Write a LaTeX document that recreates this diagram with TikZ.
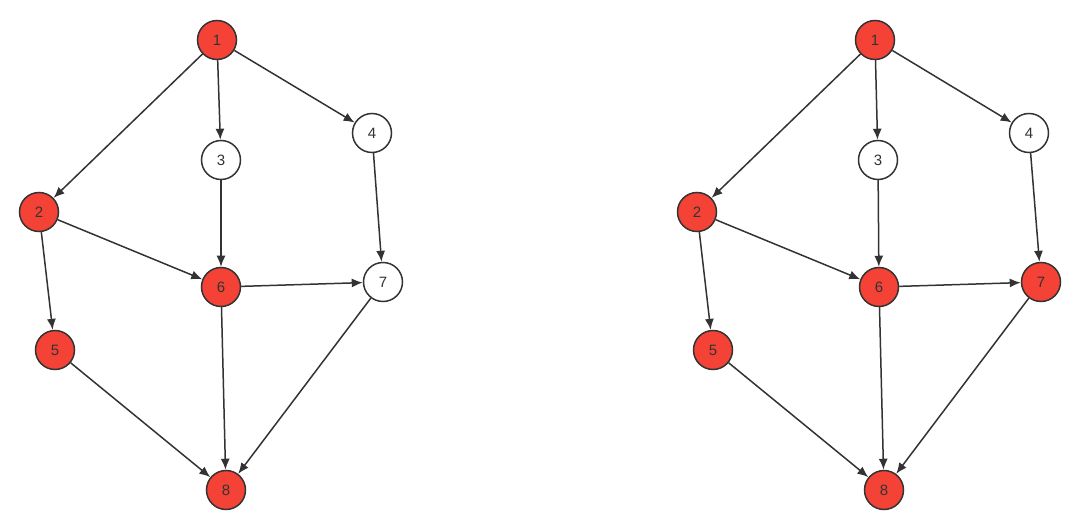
\documentclass[tikz,border=0pt]{standalone}
\usepackage{fontspec}
\setmainfont{Liberation Sans}
\usetikzlibrary{arrows.meta}
\definecolor{nodered}{HTML}{F44336}
\definecolor{edgegray}{HTML}{333333}
\tikzset{
  vert/.style={circle, draw=edgegray, line width=1.5pt, minimum size=39pt, inner sep=0pt, font=\fontsize{15}{17}\selectfont, text=edgegray},
  redv/.style={vert, fill=nodered},
  whitev/.style={vert, fill=white},
  edge/.style={draw=edgegray, line width=1.5pt, -{Latex[length=11pt,width=9pt]}}
}
\begin{document}
\begin{tikzpicture}[x=1pt,y=-1pt]
\useasboundingbox (0,0) rectangle (1080,529);
% left graph
\node[redv]   (a1) at (217,40)  {1};
\node[redv]   (a2) at (39,212)  {2};
\node[whitev] (a3) at (221,160) {3};
\node[whitev] (a4) at (372,133) {4};
\node[redv]   (a5) at (55,350)  {5};
\node[redv]   (a6) at (221,287) {6};
\node[whitev] (a7) at (383,282) {7};
\node[redv]   (a8) at (226,490) {8};
% right graph
\node[redv]   (b1) at (875,40)  {1};
\node[redv]   (b2) at (697,212) {2};
\node[whitev] (b3) at (878,160) {3};
\node[whitev] (b4) at (1029,133) {4};
\node[redv]   (b5) at (713,350) {5};
\node[redv]   (b6) at (879,287) {6};
\node[redv]   (b7) at (1041,282) {7};
\node[redv]   (b8) at (884,490) {8};
\foreach \g in {a,b}{
  \draw[edge] (\g1) -- (\g2);
  \draw[edge] (\g1) -- (\g3);
  \draw[edge] (\g1) -- (\g4);
  \draw[edge] (\g2) -- (\g5);
  \draw[edge] (\g2) -- (\g6);
  \draw[edge] (\g3) -- (\g6);
  \draw[edge] (\g4) -- (\g7);
  \draw[edge] (\g6) -- (\g7);
  \draw[edge] (\g6) -- (\g8);
  \draw[edge] (\g5) -- (\g8);
  \draw[edge] (\g7) -- (\g8);
}
\end{tikzpicture}
\end{document}
